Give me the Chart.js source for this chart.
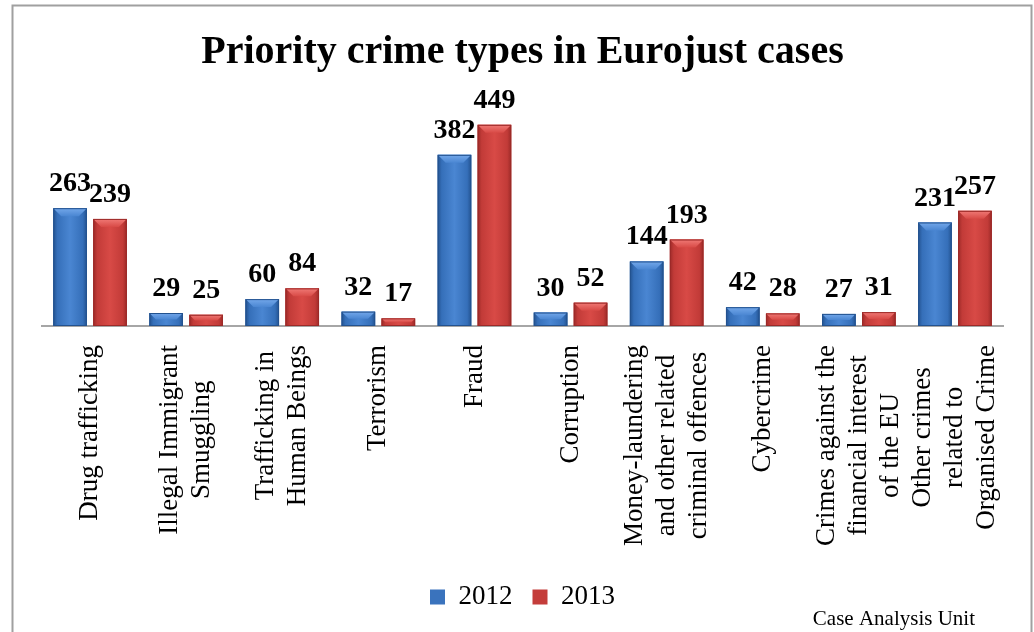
<!DOCTYPE html>
<html>
<head>
<meta charset="utf-8">
<script src="https://cdn.jsdelivr.net/npm/chart.js@4.4.1/dist/chart.umd.min.js"></script>
<style>
  html, body { margin: 0; padding: 0; background: #fff; }
  canvas { display: block; }
</style>
</head>
<body>
<canvas id="crimeChart" width="1034" height="632"></canvas>
<script>
  // crime types, one array per label line
  const categories = [
    ['Drug trafficking'],
    ['Illegal Immigrant', 'Smuggling'],
    ['Trafficking in', 'Human Beings'],
    ['Terrorism'],
    ['Fraud'],
    ['Corruption'],
    ['Money-laundering', 'and other related', 'criminal offences'],
    ['Cybercrime'],
    ['Crimes against the', 'financial interest', 'of the EU'],
    ['Other crimes', 'related to', 'Organised Crime']
  ];
  const cases2012 = [263, 29, 60, 32, 382, 30, 144, 42, 27, 231];
  const cases2013 = [239, 25, 84, 17, 449, 52, 193, 28, 31, 257];
  const seriesNames = ['2012', '2013'];

  const serif = '"Liberation Serif", "Times New Roman", serif';

  const looks = [
    { edge: '#23528f', mid: '#356fb9', light: '#4a86d2', top: '#74a8ea', flat: '#3a73bd' },
    { edge: '#9c2a28', mid: '#c23b38', light: '#d84a46', top: '#f07a76', flat: '#c43d3a' }
  ];

  // shaded bars drawn over the library's bar elements
  const bevelPlugin = {
    id: 'bevel',
    afterDatasetsDraw(chart) {
      const ctx = chart.ctx;
      ctx.save();
      chart.data.datasets.forEach((ds, di) => {
        const look = looks[di];
        chart.getDatasetMeta(di).data.forEach(bar => {
          const { x, y, base, width } = bar.getProps(['x', 'y', 'base', 'width'], true);
          const l = x - width / 2, r = x + width / 2, h = base - y;
          const g = ctx.createLinearGradient(l, 0, r, 0);
          g.addColorStop(0, look.edge);
          g.addColorStop(0.12, look.mid);
          g.addColorStop(0.5, look.light);
          g.addColorStop(0.88, look.mid);
          g.addColorStop(1, look.edge);
          ctx.fillStyle = g;
          ctx.fillRect(l, y, width, h);

          const b = Math.min(8, h / 2);
          const tg = ctx.createLinearGradient(0, y, 0, y + b);
          tg.addColorStop(0, look.top);
          tg.addColorStop(1, look.light);
          ctx.beginPath();
          ctx.moveTo(l, y);
          ctx.lineTo(r, y);
          ctx.lineTo(r - b, y + b);
          ctx.lineTo(l + b, y + b);
          ctx.closePath();
          ctx.fillStyle = tg;
          ctx.fill();

          ctx.strokeStyle = look.edge;
          ctx.lineWidth = 1;
          ctx.strokeRect(l + 0.5, y + 0.5, width - 1, h - 1);
        });
      });

      // value labels
      ctx.fillStyle = '#000';
      ctx.font = 'bold 28px ' + serif;
      ctx.textAlign = 'center';
      ctx.textBaseline = 'alphabetic';
      chart.data.datasets.forEach((ds, di) => {
        chart.getDatasetMeta(di).data.forEach((bar, i) => {
          const { x, y } = bar.getProps(['x', 'y'], true);
          ctx.fillText(String(ds.data[i]), x, y - 17);
        });
      });
      ctx.restore();
    },
    afterDraw(chart) {
      const ctx = chart.ctx;
      const xs = chart.scales.x;
      ctx.save();
      // category labels, rotated, lines centred on each other
      ctx.fillStyle = '#000';
      ctx.font = '27px ' + serif;
      ctx.textAlign = 'center';
      ctx.textBaseline = 'middle';
      const lineH = 32;
      categories.forEach((lines, i) => {
        const px = xs.getPixelForValue(i);
        const maxW = Math.max(...lines.map(s => ctx.measureText(s).width));
        ctx.save();
        ctx.translate(px, xs.top + 19);
        ctx.rotate(-Math.PI / 2);
        lines.forEach((s, k) => {
          ctx.fillText(s, -maxW / 2, (k - (lines.length - 1) / 2) * lineH);
        });
        ctx.restore();
      });

      ctx.font = '21px ' + serif;
      ctx.textAlign = 'right';
      ctx.fillText('Case Analysis Unit', 975, 619);

      ctx.strokeStyle = '#a0a0a0';
      ctx.lineWidth = 2;
      ctx.strokeRect(12.5, 5.5, 1019, 700);
      ctx.restore();
    }
  };

  new Chart(document.getElementById('crimeChart'), {
    type: 'bar',
    data: {
      labels: categories,
      datasets: [
        { label: seriesNames[0], data: cases2012, backgroundColor: looks[0].flat },
        { label: seriesNames[1], data: cases2013, backgroundColor: looks[1].flat }
      ]
    },
    options: {
      responsive: false,
      animation: false,
      categoryPercentage: 0.832,
      barPercentage: 0.84,
      layout: { padding: { left: 42, right: 31, top: 0, bottom: 11.5 } },
      plugins: {
        title: {
          display: true,
          text: 'Priority crime types in Eurojust cases',
          color: '#000',
          font: { family: serif, size: 40, weight: 'bold' },
          padding: { top: 29, bottom: 25 }
        },
        legend: {
          position: 'bottom',
          labels: {
            boxWidth: 15,
            boxHeight: 15,
            padding: 20,
            color: '#000',
            font: { family: serif, size: 27 }
          }
        },
        tooltip: { enabled: false }
      },
      scales: {
        x: {
          grid: { display: false },
          border: { display: true, color: '#a6a6a6', width: 2 },
          ticks: { display: false },
          afterFit(scale) { scale.height = 237.5; }
        },
        y: {
          display: false,
          min: 0,
          max: 500
        }
      }
    },
    plugins: [bevelPlugin]
  });
</script>
</body>
</html>
